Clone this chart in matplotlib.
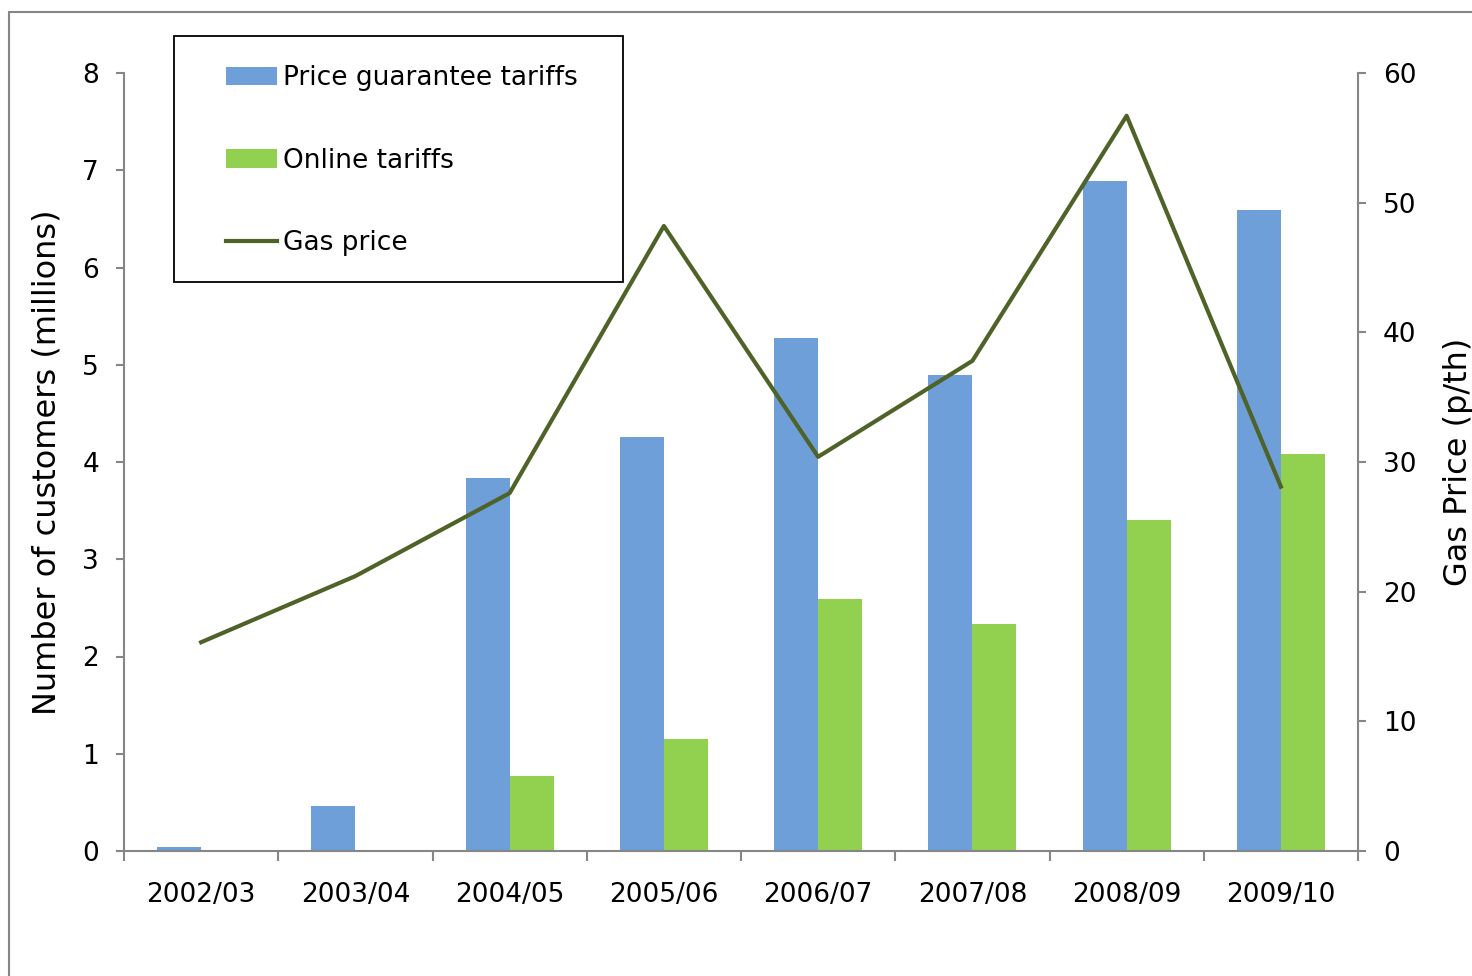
import matplotlib.pyplot as plt
import numpy as np
from matplotlib.patches import Rectangle

years = ['2002/03', '2003/04', '2004/05', '2005/06', '2006/07', '2007/08', '2008/09', '2009/10']
price_guarantee = [0.04, 0.46, 3.84, 4.26, 5.28, 4.89, 6.89, 6.59]
online = [0.0, 0.0, 0.77, 1.15, 2.59, 2.33, 3.40, 4.08]
gas_price = [16.1, 21.2, 27.6, 48.2, 30.4, 37.8, 56.7, 28.1]

blue = '#6F9FD9'
green = '#92D050'
olive = '#4F6228'
grey = '#868686'

plt.rcParams['font.family'] = ['DejaVu Sans']

fig = plt.figure(figsize=(14.72, 9.76), dpi=100)
ax = fig.add_axes([124 / 1472, 1 - 851 / 976, 1234 / 1472, 778 / 976])
ax2 = ax.twinx()

x = np.arange(len(years))
w = 0.285
b1 = ax.bar(x - w / 2, price_guarantee, w, color=blue, label='Price guarantee tariffs')
b2 = ax.bar(x + w / 2, online, w, color=green, label='Online tariffs')
ln, = ax2.plot(x, gas_price, color=olive, lw=3, label='Gas price')

ax.set_xlim(-0.5, len(years) - 0.5)
ax.set_ylim(0, 8)
ax2.set_ylim(0, 60)
ax.set_yticks(range(0, 9))
ax2.set_yticks(range(0, 61, 10))

ax.set_xticks(x)
ax.set_xticklabels(years)
ax.set_xticks(np.arange(-0.5, len(years), 1), minor=True)
ax.tick_params(axis='x', which='major', length=0, pad=22, labelsize=19)
ax.tick_params(axis='x', which='minor', length=7, width=1.5, color=grey)
ax.tick_params(axis='y', length=6, width=1.5, color=grey, pad=12, labelsize=19)
ax2.tick_params(axis='y', length=6, width=1.5, color=grey, pad=12, labelsize=19)

for a in (ax, ax2):
    a.spines['top'].set_visible(False)
    for s in ('left', 'right', 'bottom'):
        a.spines[s].set_color(grey)
        a.spines[s].set_linewidth(1.5)
ax2.spines['left'].set_visible(False)
ax2.spines['bottom'].set_visible(False)
ax.spines['right'].set_visible(False)

ax.set_ylabel('Number of customers (millions)', fontsize=23)
ax.yaxis.set_label_coords(-0.05, 0.5)
ax2.set_ylabel('Gas Price (p/th)', fontsize=23)
ax2.yaxis.set_label_coords(1.069, 0.5)

# legend, frame drawn separately
leg = ax.legend([b1, b2, ln], ['Price guarantee tariffs', 'Online tariffs', 'Gas price'],
                loc='upper left', bbox_to_anchor=(226 / 1472, 1 - 65 / 976),
                bbox_transform=fig.transFigure, frameon=False, fontsize=19,
                handlelength=1.93, handletextpad=0.23, labelspacing=2.15,
                borderpad=0, borderaxespad=0)
fig.add_artist(Rectangle((174 / 1472, 1 - 282 / 976), 449 / 1472, 246 / 976,
                         transform=fig.transFigure, fill=False, ec='black', lw=1.3))

# outer chart frame
fig.add_artist(Rectangle((9 / 1472, -0.1), 1.2, 1 - 12 / 976 + 0.1,
                         transform=fig.transFigure, fill=False, ec=grey, lw=1.5))

fig.savefig('out.png', dpi=100)
